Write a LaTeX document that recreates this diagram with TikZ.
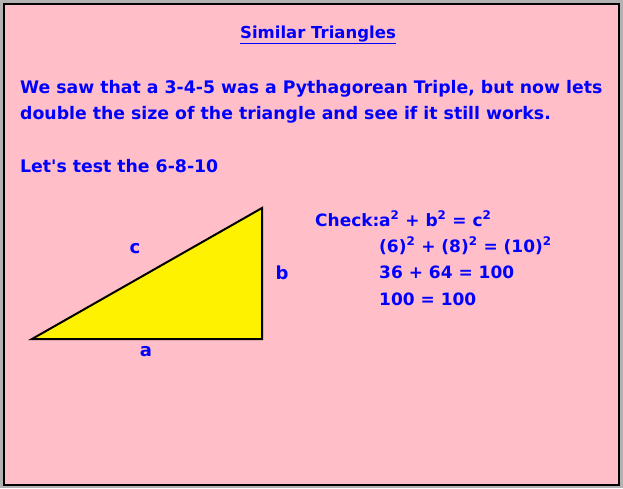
\documentclass[tikz,border=0pt]{standalone}
\usepackage{fontspec}
\setmainfont{DejaVu Sans}
\begin{document}
\begin{tikzpicture}[x=1pt,y=-1pt,
  txt/.style={text=blue,font=\bfseries\fontsize{17.3}{20}\selectfont,inner sep=0pt},
  eq/.style={text=blue,font=\bfseries\fontsize{17}{20}\selectfont,inner sep=0pt},
  ttl/.style={text=blue,font=\bfseries\fontsize{16.5}{20}\selectfont,inner sep=0pt},
  lbl/.style={text=blue,font=\bfseries\fontsize{18}{20}\selectfont,inner sep=0pt},
  tri/.style={draw=black,fill=yellow,line width=2pt,line join=miter}]
\useasboundingbox (0,0) rectangle (623,488);
\fill[gray!60] (0,0) rectangle (623,488);
\draw[fill={rgb,255:red,255;green,190;blue,200},line width=2pt] (4,4) rectangle (619,485);
\node[ttl,anchor=base] (title) at (318,38) {\underline{Similar Triangles}};
\node[txt,anchor=base west] (l1) at (20,93) {We saw that a 3-4-5 was a Pythagorean Triple, but now lets};
\node[txt,anchor=base west] (l2) at (20,119) {double the size of the triangle and see if it still works.};
\node[txt,anchor=base west] (l3) at (20,172) {Let\textquotesingle s test the 6-8-10};
\coordinate (A) at (32,339);
\coordinate (B) at (262,339);
\coordinate (C) at (262,208);
\draw[tri] (A) -- (B) -- (C) -- cycle;
\node[lbl] (lc) at (135,249) {c};
\node[lbl] (lb) at (282,273) {b};
\node[lbl] (la) at (146,352) {a};
\node[eq,anchor=base west] (chk) at (315,226) {Check:};
\node[eq,anchor=base west] (e1) at (379,226) {a\textsuperscript{2} + b\textsuperscript{2} = c\textsuperscript{2}};
\node[eq,anchor=base west] (e2) at (379,252) {(6)\textsuperscript{2} + (8)\textsuperscript{2} = (10)\textsuperscript{2}};
\node[eq,anchor=base west] (e3) at (379,278) {36 + 64 = 100};
\node[eq,anchor=base west] (e4) at (379,305) {100 = 100};
\end{tikzpicture}
\end{document}
